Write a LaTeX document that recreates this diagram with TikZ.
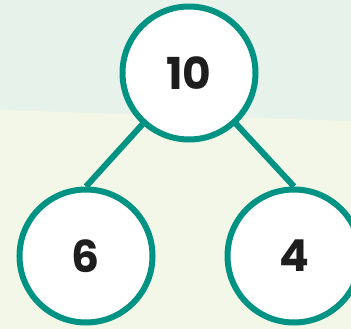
\documentclass[tikz,border=0pt]{standalone}
\usepackage{fontspec}
\setmainfont{Poppins}
\pgfdeclarelayer{bg}
\pgfdeclarelayer{edges}
\pgfsetlayers{bg,edges,main}
\definecolor{teal}{RGB}{0,146,130}
\definecolor{skyc}{RGB}{231,243,234}
\definecolor{groundc}{RGB}{243,247,232}
\definecolor{ink}{RGB}{30,30,30}
\begin{document}
\begin{tikzpicture}[x=1pt,y=-1pt,
  numcircle/.style={circle,draw=teal,line width=6pt,fill=white,inner sep=0pt,minimum size=133pt,
    font=\fontsize{44}{44}\selectfont\bfseries,text=ink},
  link/.style={draw=teal,line width=6pt}]
\useasboundingbox (0,0) rectangle (351,329);
\begin{pgfonlayer}{bg}
\fill[skyc] (0,0) rectangle (351,329);
\fill[groundc] (0,110) -- (351,121) -- (351,329) -- (0,329) -- cycle;
\end{pgfonlayer}
\node[numcircle] (t) at (189,73) {10};
\node[numcircle] (l) at (86,256) {6};
\node[numcircle] (r) at (294,256) {4};
\begin{pgfonlayer}{edges}
\path[link] (l.north) -- (t.center);
\path[link] (r.north) -- (t.center);
\end{pgfonlayer}
\end{tikzpicture}
\end{document}
